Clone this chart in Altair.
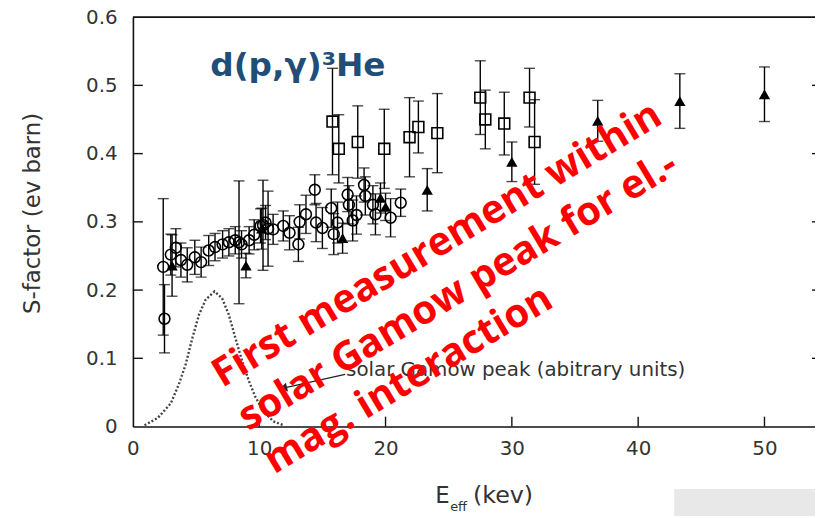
import altair as alt
import pandas as pd

# ---------------- data ----------------
circ_x = [2.4, 2.5, 3.0, 3.4, 3.8, 4.3, 4.9, 5.4, 6.0, 6.5, 7.1, 7.6, 8.1, 8.4, 8.6, 9.2, 9.6,
          10.1, 10.3, 10.5, 10.7, 11.1, 11.9, 12.4, 13.1, 13.2, 13.7, 14.4, 14.5, 15.0, 15.7,
          15.9, 16.2, 17.0, 17.1, 17.4, 17.7, 18.3, 18.4, 19.0, 19.2, 20.4, 21.2]
circ_y = [0.234, 0.158, 0.252, 0.262, 0.244, 0.237, 0.248, 0.241, 0.258, 0.263, 0.267, 0.270,
          0.273, 0.270, 0.267, 0.273, 0.281, 0.294, 0.295, 0.299, 0.290, 0.289, 0.294, 0.284,
          0.267, 0.300, 0.311, 0.347, 0.299, 0.291, 0.320, 0.282, 0.299, 0.340, 0.325, 0.302,
          0.310, 0.354, 0.338, 0.325, 0.311, 0.306, 0.328]
circ_e = [0.100, 0.050, 0.030, 0.028, 0.025, 0.025, 0.025, 0.022, 0.022, 0.020, 0.020, 0.020,
          0.020, 0.090, 0.020, 0.020, 0.022, 0.025, 0.066, 0.025, 0.055, 0.022, 0.022, 0.025,
          0.025, 0.025, 0.028, 0.022, 0.028, 0.030, 0.028, 0.030, 0.030, 0.025, 0.028, 0.030,
          0.028, 0.025, 0.028, 0.028, 0.030, 0.028, 0.020]

sq_x = [15.8, 16.3, 17.8, 19.9, 21.9, 22.6, 24.1, 27.5, 27.9, 29.4, 31.4, 31.8]
sq_y = [0.447, 0.407, 0.417, 0.407, 0.424, 0.439, 0.430, 0.482, 0.450, 0.444, 0.482, 0.417]
sq_e = [0.078, 0.050, 0.053, 0.058, 0.058, 0.038, 0.058, 0.054, 0.043, 0.046, 0.043, 0.062]

tri_x = [3.1, 8.95, 10.2, 16.6, 19.6, 20.0, 23.3, 30.0, 36.8, 43.3, 50.0]
tri_y = [0.236, 0.236, 0.290, 0.276, 0.335, 0.322, 0.347, 0.388, 0.448, 0.477, 0.487]
tri_e = [0.045, 0.018, 0.030, 0.022, 0.022, 0.020, 0.031, 0.029, 0.030, 0.040, 0.040]

gamow_x = [0.92, 1.96, 3.0, 3.66, 4.19, 4.71, 5.23, 5.76, 6.46, 7.06, 7.59, 8.11, 8.63,
           9.16, 9.68, 10.34, 11.12, 11.9]
gamow_y = [0.002, 0.0125, 0.034, 0.063, 0.092, 0.130, 0.164, 0.186, 0.198, 0.188, 0.164,
           0.130, 0.097, 0.068, 0.044, 0.022, 0.0077, 0.002]

x_ticks = [0, 10, 20, 30, 40, 50]
y_ticks = [0, 0.1, 0.2, 0.3, 0.4, 0.5, 0.6]

arrow_x = [16.8, 11.9]
arrow_y = [0.0766, 0.0564]

W, H = 688, 413
FONT = "DejaVu Sans"

# ---------------- tables ----------------
rows = []
for xs, ys, es, name in [(circ_x, circ_y, circ_e, "circle"),
                         (sq_x, sq_y, sq_e, "square"),
                         (tri_x, tri_y, tri_e, "triangle")]:
    for a, b, c in zip(xs, ys, es):
        rows.append({"x": a, "y": b, "lo": b - c, "hi": b + c, "series": name})
pts = pd.DataFrame(rows)
gam = pd.DataFrame({"x": gamow_x, "y": gamow_y})
arr = pd.DataFrame({"x": arrow_x, "y": arrow_y, "o": [0, 1]})
xt = pd.DataFrame({"v": x_ticks[1:]})
yt = pd.DataFrame({"v": y_ticks[1:-1]})

xscale = alt.Scale(domain=[0, 54], nice=False, zero=False)
yscale = alt.Scale(domain=[0, 0.6], nice=False, zero=False)

xaxis = alt.Axis(values=x_ticks, ticks=False, grid=False, title=None, labelFont=FONT,
                 labelFontSize=20, labelColor="#333", labelPadding=12, domainColor="#111",
                 domainWidth=1.6, labelFlush=False)
yaxis = alt.Axis(values=y_ticks, ticks=False, grid=False, title=None, labelFont=FONT,
                 labelFontSize=20, labelColor="#333", labelPadding=16, domainColor="#111",
                 domainWidth=1.6,
                 labelExpr="datum.value == 0 ? '0' : format(datum.value, '.1f')")

X = alt.X("x:Q", scale=xscale, axis=xaxis)
Y = alt.Y("y:Q", scale=yscale, axis=yaxis)

base = alt.Chart(pts)

# error bars
err = base.mark_rule(color="black", strokeWidth=1.4).encode(
    x=alt.X("x:Q", scale=xscale), y=alt.Y("lo:Q", scale=yscale), y2="hi:Q")
cap_lo = base.mark_tick(color="black", thickness=1.4, size=11, orient="horizontal").encode(
    x=alt.X("x:Q", scale=xscale), y=alt.Y("lo:Q", scale=yscale))
cap_hi = base.mark_tick(color="black", thickness=1.4, size=11, orient="horizontal").encode(
    x=alt.X("x:Q", scale=xscale), y=alt.Y("hi:Q", scale=yscale))

circles = base.transform_filter("datum.series == 'circle'").mark_point(
    shape="circle", filled=False, color="black", strokeWidth=1.6, size=120, opacity=1).encode(x=X, y=Y)
squares = base.transform_filter("datum.series == 'square'").mark_point(
    shape="square", filled=False, color="black", strokeWidth=1.6, size=120, opacity=1).encode(x=X, y=Y)
tris = base.transform_filter("datum.series == 'triangle'").mark_point(
    shape="triangle-up", filled=True, color="black", size=130, opacity=1).encode(x=X, y=Y)

gamow = alt.Chart(gam).mark_line(color="#444", strokeWidth=2.4, strokeDash=[2, 2]).encode(
    x=alt.X("x:Q", scale=xscale), y=alt.Y("y:Q", scale=yscale))

# frame pieces
top_line = alt.Chart(pd.DataFrame({"a": [0]})).mark_rule(color="#111", strokeWidth=1.6).encode(
    x=alt.value(0), x2=alt.value(W), y=alt.value(0))
xtick_r = alt.Chart(xt).mark_rule(color="#111", strokeWidth=1.4).encode(
    x=alt.X("v:Q", scale=xscale), y=alt.value(H), y2=alt.value(H - 10))
ytick_l = alt.Chart(yt).mark_rule(color="#111", strokeWidth=1.4).encode(
    y=alt.Y("v:Q", scale=yscale), x=alt.value(0), x2=alt.value(10))
ytick_r = alt.Chart(yt).mark_rule(color="#111", strokeWidth=1.4).encode(
    y=alt.Y("v:Q", scale=yscale), x=alt.value(W - 3), x2=alt.value(W))

# annotation: Gamow arrow + label
arrow_line = alt.Chart(arr).mark_line(color="#222", strokeWidth=1.3).encode(
    x=alt.X("x:Q", scale=xscale), y=alt.Y("y:Q", scale=yscale), order="o:Q")
arrow_head = alt.Chart(arr.iloc[[1]]).mark_point(
    shape="triangle-up", filled=True, color="#222", size=80, angle=256, opacity=1).encode(
    x=alt.X("x:Q", scale=xscale), y=alt.Y("y:Q", scale=yscale))
gam_label = alt.Chart(pd.DataFrame({"t": ["solar Gamow peak (abitrary units)"]})).mark_text(
    align="left", baseline="alphabetic", font=FONT, fontSize=20, color="#333").encode(
    text="t:N", x=alt.value(215), y=alt.value(362))

# titles
ytitle = alt.Chart(pd.DataFrame({"t": ["S-factor (ev barn)"]})).mark_text(
    angle=270, align="center", baseline="middle", font=FONT, fontSize=23, color="#333").encode(
    text="t:N", x=alt.value(-101), y=alt.value(198))
xt_E = alt.Chart(pd.DataFrame({"t": ["E"]})).mark_text(
    align="left", baseline="alphabetic", font=FONT, fontSize=23, color="#333").encode(
    text="t:N", x=alt.value(305), y=alt.value(490))
xt_eff = alt.Chart(pd.DataFrame({"t": ["eff"]})).mark_text(
    align="left", baseline="alphabetic", font=FONT, fontSize=13, color="#333").encode(
    text="t:N", x=alt.value(320), y=alt.value(498))
xt_kev = alt.Chart(pd.DataFrame({"t": ["(kev)"]})).mark_text(
    align="left", baseline="alphabetic", font=FONT, fontSize=24, color="#333").encode(
    text="t:N", x=alt.value(343), y=alt.value(490))

main_title = alt.Chart(pd.DataFrame({"t": ["d(p,γ)³He"]})).mark_text(
    align="left", baseline="alphabetic", font=FONT, fontWeight="bold", fontSize=33,
    color="#1F4E79").encode(text="t:N", x=alt.value(78), y=alt.value(59))

red = alt.Chart(pd.DataFrame({"t": ["First measurement within\nsolar Gamow peak for el.-\nmag. interaction"]})).mark_text(
    align="left", baseline="alphabetic", font="Open Sans", fontWeight="bold", fontSize=40,
    color="#FF0000", angle=329, lineBreak="\n", lineHeight=51).encode(
    text="t:N", x=alt.value(90), y=alt.value(374))

# faint image fragment at the bottom right of the slide
strip = alt.Chart(pd.DataFrame({"a": [0]})).mark_rect(color="#e2e2e2", opacity=0.8).encode(
    x=alt.value(546), x2=alt.value(W), y=alt.value(476), y2=alt.value(505))

chart = alt.layer(
    strip, top_line, xtick_r, ytick_l, ytick_r, gamow, err, cap_lo, cap_hi,
    circles, squares, tris, arrow_line, arrow_head, gam_label,
    ytitle, xt_E, xt_eff, xt_kev, main_title, red
).properties(
    width=W, height=H,
    autosize=alt.AutoSizeParams(type="none"),
    padding={"left": 126, "top": 7, "right": 0, "bottom": 88},
    background="white"
).configure_view(stroke=None)

chart.save("out.html", embed_options={"renderer": "svg", "actions": False})
